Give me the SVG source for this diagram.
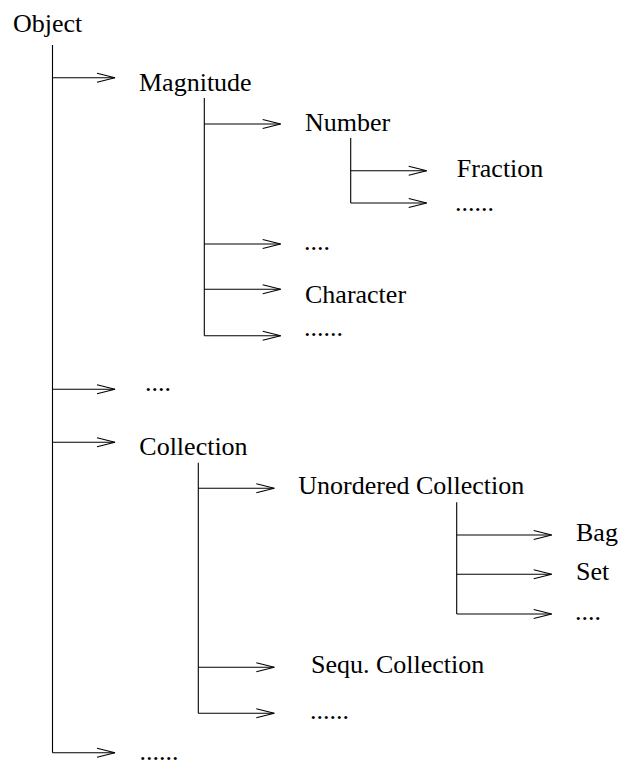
<svg xmlns="http://www.w3.org/2000/svg" width="618" height="760" viewBox="0 0 618 760">
  <style>
    .lbl { font-family: "Liberation Serif", "Times New Roman", serif; font-size: 26px; fill: #000; }
    .wire { fill: none; stroke: #000; stroke-width: 1.1; }
  </style>
  <defs>
    <marker id="open" markerUnits="userSpaceOnUse" markerWidth="22" markerHeight="12" viewBox="-20 -6 22 12" refX="0" refY="0" orient="auto">
      <path d="M-18,-4.5 L0,0 L-18,4.5" fill="none" stroke="#000" stroke-width="1.1"/>
    </marker>
  </defs>
  <rect width="618" height="760" fill="#fff"/>

  <g id="connectors">
    <!-- Object trunk -->
    <path class="wire" d="M52.5,45 V752.7"/>
    <path class="wire" d="M52.5,77.7 H115" marker-end="url(#open)"/>
    <path class="wire" d="M52.5,389.3 H115" marker-end="url(#open)"/>
    <path class="wire" d="M52.5,442.3 H115" marker-end="url(#open)"/>
    <path class="wire" d="M52.5,752.7 H115" marker-end="url(#open)"/>

    <!-- Magnitude trunk -->
    <path class="wire" d="M204.3,98 V335.7"/>
    <path class="wire" d="M204.3,124 H280.7" marker-end="url(#open)"/>
    <path class="wire" d="M204.3,244 H280.7" marker-end="url(#open)"/>
    <path class="wire" d="M204.3,289.3 H280.7" marker-end="url(#open)"/>
    <path class="wire" d="M204.3,335.7 H280.7" marker-end="url(#open)"/>

    <!-- Number trunk -->
    <path class="wire" d="M350.7,138 V203"/>
    <path class="wire" d="M350.7,170.7 H426.7" marker-end="url(#open)"/>
    <path class="wire" d="M350.7,203 H426.7" marker-end="url(#open)"/>

    <!-- Collection trunk -->
    <path class="wire" d="M198.3,462.7 V713.3"/>
    <path class="wire" d="M198.3,488.3 H274.3" marker-end="url(#open)"/>
    <path class="wire" d="M198.3,667.3 H274.3" marker-end="url(#open)"/>
    <path class="wire" d="M198.3,713.3 H274.3" marker-end="url(#open)"/>

    <!-- Unordered Collection trunk -->
    <path class="wire" d="M456.7,502.3 V614"/>
    <path class="wire" d="M456.7,535 H551.7" marker-end="url(#open)"/>
    <path class="wire" d="M456.7,574.3 H551.7" marker-end="url(#open)"/>
    <path class="wire" d="M456.7,614 H551.7" marker-end="url(#open)"/>
  </g>

  <g id="object"><text class="lbl" x="13" y="31.7">Object</text></g>
  <g id="magnitude"><text class="lbl" x="139" y="91">Magnitude</text></g>
  <g id="number"><text class="lbl" x="305" y="130.7">Number</text></g>
  <g id="fraction"><text class="lbl" x="456.7" y="177">Fraction</text></g>
  <g id="number-more"><text class="lbl" x="455" y="211">......</text></g>
  <g id="magnitude-etc"><text class="lbl" x="304" y="249.5">....</text></g>
  <g id="character"><text class="lbl" x="305" y="302.7">Character</text></g>
  <g id="magnitude-more"><text class="lbl" x="304" y="335.5">......</text></g>
  <g id="object-etc"><text class="lbl" x="145" y="391">....</text></g>
  <g id="collection"><text class="lbl" x="139.3" y="455">Collection</text></g>
  <g id="unordered-collection"><text class="lbl" x="298.3" y="494">Unordered Collection</text></g>
  <g id="bag"><text class="lbl" x="576" y="541">Bag</text></g>
  <g id="set"><text class="lbl" x="576" y="579.5">Set</text></g>
  <g id="unordered-more"><text class="lbl" x="575" y="620">....</text></g>
  <g id="sequ-collection"><text class="lbl" x="311" y="673.3">Sequ. Collection</text></g>
  <g id="collection-more"><text class="lbl" x="310" y="719">......</text></g>
  <g id="object-more"><text class="lbl" x="139.5" y="760">......</text></g>
</svg>
